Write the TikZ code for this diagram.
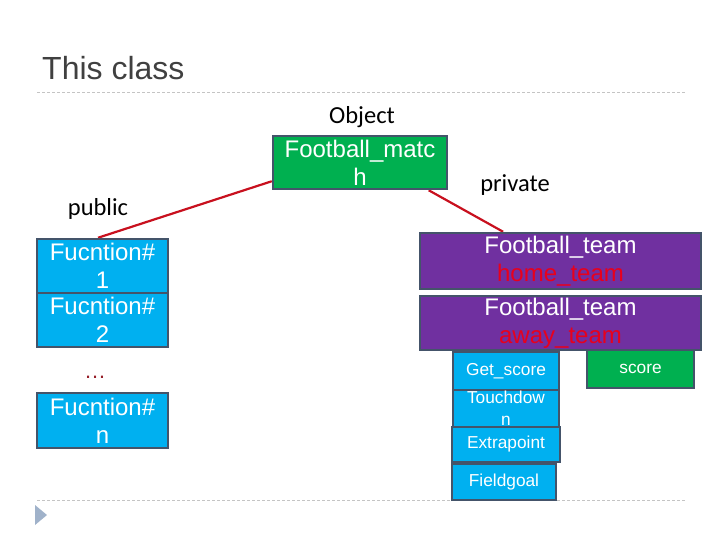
\documentclass[tikz,border=0pt]{standalone}
\usepackage{fontspec}
\setmainfont{Liberation Sans}
\newfontfamily\calfont{Carlito}
\usetikzlibrary{backgrounds}
\definecolor{bord}{RGB}{68,84,106}
\definecolor{cblue}{RGB}{0,176,240}
\definecolor{cgreen}{RGB}{0,176,80}
\definecolor{cpurple}{RGB}{112,48,160}
\definecolor{rtext}{RGB}{232,0,28}
\definecolor{rline}{RGB}{200,16,30}
\definecolor{dashc}{RGB}{196,196,196}
\definecolor{titlec}{RGB}{64,64,64}
\definecolor{bulletc}{RGB}{160,178,202}
\definecolor{dotc}{RGB}{150,30,40}
\tikzset{
  box/.style={draw=bord, line width=2.5pt, text=white, inner sep=0pt, align=center},
  bigtxt/.style={font=\fontsize{24}{28}\selectfont},
  smalltxt/.style={font=\fontsize{17.3}{22}\selectfont},
  lbl/.style={font=\calfont\fontsize{24.5}{28}\selectfont, text=black, anchor=base},
  conn/.style={draw=rline, line width=2.2pt},
  sep/.style={draw=dashc, line width=0.8pt, dash pattern=on 3pt off 2pt}
}
\begin{document}
\begin{tikzpicture}[x=1pt,y=-1pt]
\useasboundingbox (0,0) rectangle (720,540);
% title and separators
\node[anchor=base west, inner sep=0pt, text=titlec, font=\fontsize{32}{36}\selectfont] (title) at (42,80) {This class};
\draw[sep] (37,92) -- (686,92);
\draw[sep] (37,500) -- (686,500);
\fill[bulletc] (35,505) -- (47,515) -- (35,525) -- cycle;
% labels
\node[lbl] (obj) at (362,124) {Object};
\node[lbl] (pub) at (98,215) {public};
\node[lbl] (priv) at (515,192) {private};
% main object
\node[box, bigtxt, fill=cgreen, minimum width=174, minimum height=53] (fm) at (360,162.5) {Football\_matc\\h};
% public functions
\node[box, bigtxt, fill=cblue, minimum width=131, minimum height=54] (f1) at (102.5,266) {Fucntion\#\\1};
\node[box, bigtxt, fill=cblue, minimum width=131, minimum height=54] (f2) at (102.5,320) {Fucntion\#\\2};
\node[anchor=base, inner sep=0pt, text=dotc, font=\fontsize{22}{26}\selectfont] (dots) at (95,378) {…};
\node[box, bigtxt, fill=cblue, minimum width=131, minimum height=55] (fn) at (102.5,420.5) {Fucntion\#\\n};
% private members
\node[box, bigtxt, fill=cpurple, minimum width=281, minimum height=56] (home) at (560.5,261) {Football\_team\\\textcolor{rtext}{home\_team}};
\node[box, bigtxt, fill=cpurple, minimum width=281, minimum height=54] (away) at (560.5,323) {Football\_team\\\textcolor{rtext}{away\_team}};
\node[box, smalltxt, fill=cblue, minimum width=106, minimum height=38] (gs) at (506,371) {Get\_score};
\node[box, smalltxt, fill=cblue, minimum width=106, minimum height=37] (td) at (506,408.5) {Touchdow\\n};
\node[box, smalltxt, fill=cblue, minimum width=108, minimum height=35] (ep) at (506,444.5) {Extrapoint};
\node[box, smalltxt, fill=cblue, minimum width=104, minimum height=36] (fg) at (504,482) {Fieldgoal};
\node[box, smalltxt, fill=cgreen, minimum width=107, minimum height=38] (score) at (640.5,369) {score};
% connectors
\begin{pgfonlayer}{background}
\draw[conn] (fm.192) -- (f1.99);
\draw[conn] (fm.338) -- (home.153);
\end{pgfonlayer}
\end{tikzpicture}
\end{document}
